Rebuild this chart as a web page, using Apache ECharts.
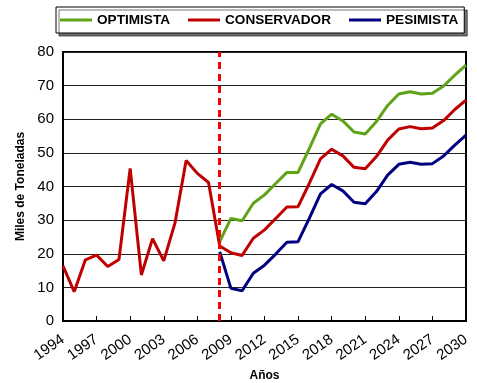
<!DOCTYPE html>
<html>
<head>
<meta charset="utf-8">
<script src="https://cdn.jsdelivr.net/npm/echarts@6/dist/echarts.min.js"></script>
<style>
  html, body { margin: 0; padding: 0; background: #fff; }
  #chart { width: 477px; height: 383px; }
</style>
</head>
<body>
<div id="chart"></div>
<script>
// Years on the horizontal axis
const years = [];
for (let y = 1994; y <= 2030; y++) years.push(String(y));

// Historical + conservative projection (thousand tonnes)
const conservador = [
  16.4, 8.7, 18.2, 19.6, 16.2, 18.3, 45.4, 13.7, 24.5, 17.9, 29.1, 47.7, 43.9, 41.2,
  22.3, 20.3, 19.5, 24.6, 27.1, 30.5, 33.9, 34.0, 40.9, 48.2, 51.1, 49.1, 45.7, 45.3,
  48.9, 53.8, 57.1, 57.8, 57.2, 57.4, 59.6, 62.9, 65.7
];

// Projections start in 2008
const optimistaProj = [
  23.6, 30.5, 29.8, 35.0, 37.5, 40.9, 44.2, 44.2, 51.3, 58.6, 61.5, 59.5, 56.2, 55.6,
  59.3, 64.1, 67.5, 68.2, 67.5, 67.7, 69.9, 73.1, 76.1
];
const pesimistaProj = [
  20.6, 9.7, 9.0, 14.2, 16.6, 19.9, 23.4, 23.6, 30.5, 37.8, 40.6, 38.7, 35.3, 34.9,
  38.5, 43.4, 46.6, 47.2, 46.6, 46.8, 49.1, 52.3, 55.3
];
const projectionStart = '2008';

const pad = new Array(years.indexOf(projectionStart)).fill(null);
const optimista = pad.concat(optimistaProj);
const pesimista = pad.concat(pesimistaProj);

const chart = echarts.init(document.getElementById('chart'));
const font = 'Liberation Sans, Arial, sans-serif';

chart.setOption({
  animation: false,
  backgroundColor: '#fff',
  textStyle: { fontFamily: font },
  legend: {
    top: 7,
    left: 56,
    padding: [6, 6, 6, 4],
    itemGap: 18,
    itemWidth: 32,
    itemHeight: 3,
    icon: 'rect',
    backgroundColor: '#fff',
    borderColor: '#000',
    borderWidth: 1,
    shadowColor: 'rgba(0,0,0,0.55)',
    shadowOffsetX: 3,
    shadowOffsetY: 3,
    shadowBlur: 0,
    textStyle: { fontFamily: font, fontWeight: 'bold', fontSize: 13.6, color: '#000' },
    data: ['OPTIMISTA', 'CONSERVADOR', 'PESIMISTA']
  },
  grid: {
    left: 63, right: 11, top: 52, bottom: 62,
    outerBoundsMode: 'none',
    show: true, borderColor: '#000', borderWidth: 2, backgroundColor: 'transparent'
  },
  xAxis: {
    type: 'category',
    data: years,
    boundaryGap: false,
    name: 'Años',
    nameLocation: 'middle',
    nameGap: 48,
    nameTextStyle: { fontFamily: font, fontWeight: 'bold', fontSize: 12, color: '#000' },
    axisLine: { lineStyle: { color: '#000', width: 2 } },
    axisTick: { inside: true, length: 5, interval: 2, lineStyle: { color: '#000' } },
    axisLabel: { interval: 2, rotate: 35, fontSize: 15, color: '#000', margin: 17, fontFamily: font }
  },
  yAxis: {
    type: 'value',
    min: 0, max: 80, interval: 10,
    name: 'Miles de Toneladas',
    nameLocation: 'middle',
    nameGap: 36,
    nameTextStyle: { fontFamily: font, fontWeight: 'bold', fontSize: 12, color: '#000' },
    axisLine: { show: true, lineStyle: { color: '#000', width: 2 } },
    axisTick: { show: false },
    axisLabel: { fontSize: 15, color: '#000', margin: 9, fontFamily: font },
    splitLine: { lineStyle: { color: '#222', width: 1 } }
  },
  series: [
    {
      name: 'OPTIMISTA', type: 'line', data: optimista, showSymbol: false,
      color: '#5fa319', lineStyle: { width: 3, color: '#5fa319' }, z: 3
    },
    {
      name: 'CONSERVADOR', type: 'line', data: conservador, showSymbol: false,
      color: '#c00000', lineStyle: { width: 3, color: '#c00000' }, z: 4,
      markLine: {
        silent: true, symbol: 'none', label: { show: false },
        lineStyle: { color: '#ff0000', width: 3, type: [7, 5] },
        data: [{ xAxis: projectionStart }]
      }
    },
    {
      name: 'PESIMISTA', type: 'line', data: pesimista, showSymbol: false,
      color: '#000080', lineStyle: { width: 3, color: '#000080' }, z: 3
    }
  ]
});
</script>
</body>
</html>
